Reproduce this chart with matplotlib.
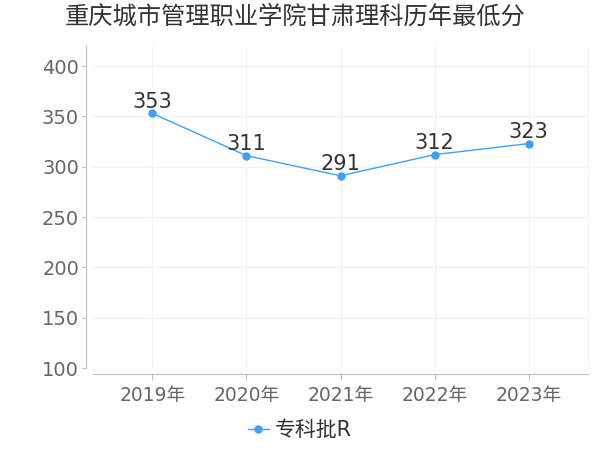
import matplotlib
matplotlib.use("Agg")
import matplotlib.pyplot as plt

plt.rcParams['font.family'] = ['DejaVu Sans', 'Noto Sans CJK SC']

# data
years = ["2019年", "2020年", "2021年", "2022年", "2023年"]
scores = [353, 311, 291, 312, 323]
series_name = "专科批R"
title = "重庆城市管理职业学院甘肃理科历年最低分"

LINE = "#3fa0f7"
GRID = "#f2f2f2"
AXIS = "#bdbdbd"
TICK = "#666666"

fig = plt.figure(figsize=(6, 4.5), dpi=100)
ax = fig.add_axes([0.155, 0.182, 0.825, 0.716])

x = list(range(len(years)))
ax.plot(x, scores, color=LINE, lw=1, marker="o", ms=5, label=series_name, zorder=3)
for xi, v in zip(x, scores):
    ax.annotate(str(v), (xi, v), xytext=(0, 1), textcoords="offset points",
                ha="center", va="bottom", fontsize=15, color="#333333", zorder=4)

ax.set_xlim(-0.63, 4.63)
ax.set_ylim(100, 420)
ax.set_yticks(range(100, 401, 50))
ax.set_xticks(x)
ax.set_xticklabels(years)

ax.grid(True, color=GRID, lw=1)
ax.set_axisbelow(True)
ax.spines["top"].set_visible(False)
ax.spines["right"].set_color(GRID)
ax.spines["left"].set_position(("outward", 5))
ax.spines["bottom"].set_position(("outward", 4))
ax.spines["left"].set_color(AXIS)
ax.spines["bottom"].set_color(AXIS)
ax.tick_params(axis="y", colors=AXIS, labelcolor=TICK, labelsize=14, length=3, pad=2)
ax.tick_params(axis="x", colors=AXIS, labelcolor=TICK, labelsize=13.5, length=4, pad=5)

fig.suptitle(title, x=0.492, y=0.99, fontsize=17.5, color="#333333")

fig.legend(loc="lower center", bbox_to_anchor=(0.5, -0.02), frameon=False,
           fontsize=15, handlelength=1.0, handletextpad=0.3, labelcolor="#333333")

fig.savefig("out.png", dpi=100)
